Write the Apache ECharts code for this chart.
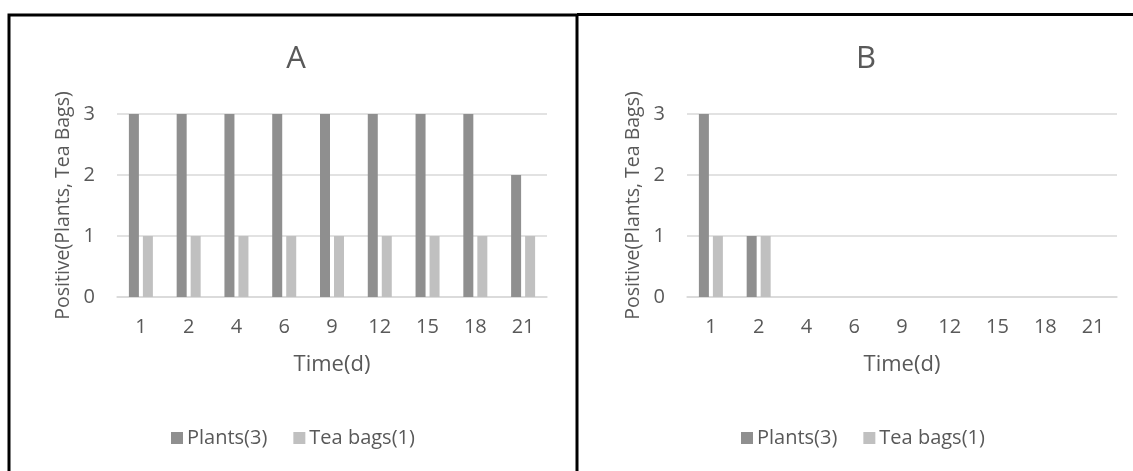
<!DOCTYPE html>
<html>
<head>
<meta charset="utf-8">
<script src="https://cdn.jsdelivr.net/npm/echarts@6/dist/echarts.min.js"></script>
<style>
  html, body { margin: 0; padding: 0; background: #fff; }
  #chart { width: 1133px; height: 471px; }
</style>
</head>
<body>
<div id="chart"></div>
<script>
// Sampling days shared by both panels
const days = ['1', '2', '4', '6', '9', '12', '15', '18', '21'];

// Panel A: number of positive samples per day
const plantsA = [3, 3, 3, 3, 3, 3, 3, 3, 2];
const teaBagsA = [1, 1, 1, 1, 1, 1, 1, 1, 1];

// Panel B: number of positive samples per day
const plantsB = [3, 1, 0, 0, 0, 0, 0, 0, 0];
const teaBagsB = [1, 1, 0, 0, 0, 0, 0, 0, 0];

const seriesNames = ['Plants(3)', 'Tea bags(1)'];
const panelTitles = ['A', 'B'];
const yTicks = [0, 1, 2, 3];

const FONT = '"Open Sans", "Noto Sans", sans-serif';
const TEXT = '#595959';
const GRID_LINE = '#D9D9D9';
const DARK = '#8F8F8F';
const LIGHT = '#C0C0C0';

const chart = echarts.init(document.getElementById('chart'));

function xAxisFor(i) {
  return {
    type: 'category', gridIndex: i, data: days,
    axisLine: { lineStyle: { color: GRID_LINE, width: 1.5 } },
    axisTick: { show: false },
    axisLabel: { color: TEXT, fontFamily: FONT, fontSize: 20, margin: 20 },
    name: 'Time(d)', nameLocation: 'middle', nameGap: 57,
    nameTextStyle: { color: TEXT, fontFamily: FONT, fontSize: 22 }
  };
}

function yAxisFor(i) {
  return {
    type: 'value', gridIndex: i,
    min: yTicks[0], max: yTicks[yTicks.length - 1], interval: 1,
    axisLine: { show: false }, axisTick: { show: false },
    splitLine: { lineStyle: { color: GRID_LINE, width: 1.5 } },
    axisLabel: { color: TEXT, fontFamily: FONT, fontSize: 20, margin: 22 },
    name: 'Positive(Plants, Tea Bags)', nameLocation: 'middle', nameGap: 44,
    nameTextStyle: { color: TEXT, fontFamily: FONT, fontSize: 19.5 }
  };
}

function barSeries(name, data, color, i) {
  return {
    type: 'bar', name, data, xAxisIndex: i, yAxisIndex: i,
    barWidth: 10, barGap: '40%',
    itemStyle: { color },
    silent: true
  };
}

const legendStyle = {
  icon: 'rect', itemWidth: 12, itemHeight: 12, itemGap: 26,
  textStyle: { color: TEXT, fontFamily: FONT, fontSize: 20, padding: [0, 0, 0, -1] },
  selectedMode: false
};

chart.setOption({
  backgroundColor: '#fff',
  animation: false,
  title: [
    { text: panelTitles[0], left: 291, top: 39, textAlign: 'center',
      textStyle: { color: TEXT, fontFamily: FONT, fontSize: 31, fontWeight: 'normal' } },
    { text: panelTitles[1], left: 861, top: 39, textAlign: 'center',
      textStyle: { color: TEXT, fontFamily: FONT, fontSize: 31, fontWeight: 'normal' } }
  ],
  legend: [
    Object.assign({ data: seriesNames, left: 166, top: 423 }, legendStyle),
    Object.assign({ data: seriesNames, left: 736, top: 423 }, legendStyle)
  ],
  grid: [
    { left: 117, width: 430, top: 114, height: 183 },
    { left: 687, width: 430, top: 114, height: 183 }
  ],
  xAxis: [xAxisFor(0), xAxisFor(1)],
  yAxis: [yAxisFor(0), yAxisFor(1)],
  series: [
    barSeries(seriesNames[0], plantsA, DARK, 0),
    barSeries(seriesNames[1], teaBagsA, LIGHT, 0),
    barSeries(seriesNames[0], plantsB, DARK, 1),
    barSeries(seriesNames[1], teaBagsB, LIGHT, 1)
  ],
  graphic: [
    // frame around panel A (open at the bottom)
    { type: 'polyline', silent: true,
      shape: { points: [[9, 471], [9, 15], [577, 15], [577, 471]] },
      style: { stroke: '#000', lineWidth: 3, fill: null } },
    // top edge of panel B
    { type: 'line', silent: true,
      shape: { x1: 577, y1: 14.5, x2: 1133, y2: 14.5 },
      style: { stroke: '#000', lineWidth: 3 } }
  ]
});
</script>
</body>
</html>
